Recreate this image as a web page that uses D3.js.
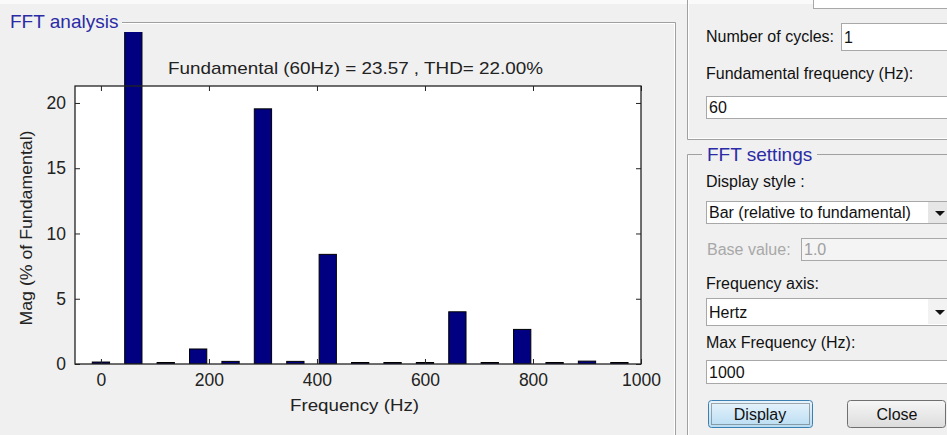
<!DOCTYPE html>
<html><head><meta charset="utf-8">
<script src="https://cdn.jsdelivr.net/npm/d3@7"></script>
<style>
html,body{margin:0;padding:0;background:#f0f0f0;overflow:hidden;}
svg{display:block;font-family:"Liberation Sans",Arial,sans-serif;}
</style></head><body>
<svg id="c" width="947" height="435"></svg>
<script>
// ---- data ----
const freqs = [0,60,120,180,240,300,360,420,480,540,600,660,720,780,840,900,960];
const mags  = [0.15,100,0.1,1.15,0.2,19.55,0.2,8.4,0.1,0.1,0.1,4.0,0.1,2.65,0.1,0.22,0.1];
const xTicks = [0,200,400,600,800,1000];
const yTicks = [0,5,10,15,20];
const chartTitle = "Fundamental (60Hz) = 23.57 , THD= 22.00%";
const xLabel = "Frequency (Hz)";
const yLabel = "Mag (% of Fundamental)";
const panelTitle = "FFT analysis";

const svg = d3.select("#c");
const W = 947, H = 435;
svg.append("rect").attr("x",0).attr("y",0).attr("width",W).attr("height",H).attr("fill","#f0f0f0");
svg.append("rect").attr("x",0).attr("y",0).attr("width",W).attr("height",4).attr("fill","#fafafa");

// ---- left panel (FFT analysis) ----
const blue = "#2b2ba6";
const line = "#a0a0a0";
svg.append("path").attr("d","M122,22.5 H675.5 V435").attr("fill","none").attr("stroke",line);
svg.append("path").attr("d","M122,23.5 H674.5 V435").attr("fill","none").attr("stroke","#fff");
svg.append("text").attr("x",10).attr("y",28).attr("fill",blue).attr("font-size",19).text(panelTitle);

// ---- chart ----
const L=75, R=641, T=86, B=364;
const x = d3.scaleLinear().domain([-48,1000]).range([L,R]);
const y = d3.scaleLinear().domain([0,21.3]).range([B,T]);
const bw = x(32)-x(0);

svg.append("rect").attr("x",L).attr("y",T).attr("width",R-L).attr("height",B-T).attr("fill","#fff");

svg.append("clipPath").attr("id","clip").append("rect").attr("x",L).attr("y",32).attr("width",R-L).attr("height",B-32);
svg.append("g").attr("clip-path","url(#clip)").selectAll("rect").data(freqs).enter().append("rect")
  .attr("x",(d)=>x(d)-bw/2).attr("width",bw)
  .attr("y",(d,i)=>Math.min(y(mags[i]),B-1.5))
  .attr("height",(d,i)=>Math.max(B-y(mags[i]),1.5))
  .attr("fill","#000080").attr("stroke","#000").attr("stroke-width",1);

const tl = 5;
const gx = svg.append("g").attr("transform",`translate(0,${B})`)
  .call(d3.axisBottom(x).tickValues(xTicks).tickSize(-tl).tickPadding(10).tickFormat(d3.format("d")));
const gxt = svg.append("g").attr("transform",`translate(0,${T})`)
  .call(d3.axisTop(x).tickValues(xTicks).tickSize(-tl).tickFormat(""));
const gy = svg.append("g").attr("transform",`translate(${L},0)`)
  .call(d3.axisLeft(y).tickValues(yTicks).tickSize(-tl).tickPadding(9));
const gyr = svg.append("g").attr("transform",`translate(${R},0)`)
  .call(d3.axisRight(y).tickValues(yTicks).tickSize(-tl).tickFormat(""));
[gx,gxt,gy,gyr].forEach(g=>{
  g.select(".domain").remove();
  g.selectAll(".tick line").attr("stroke","#222");
  g.selectAll("text").attr("font-size",17.5).attr("fill","#222").attr("font-family","'Liberation Sans',Arial,sans-serif");
});
svg.append("rect").attr("x",L).attr("y",T).attr("width",R-L).attr("height",B-T).attr("fill","none").attr("stroke","#222").attr("stroke-width",1.3);

svg.append("text").attr("x",168).attr("y",74).attr("font-size",17).attr("fill","#222")
  .attr("textLength",375).attr("lengthAdjust","spacingAndGlyphs").text(chartTitle);
svg.append("text").attr("x",290).attr("y",411).attr("font-size",17).attr("fill","#222")
  .attr("textLength",129).attr("lengthAdjust","spacingAndGlyphs").text(xLabel);
svg.append("text").attr("transform",`translate(32,${(T+B)/2+3}) rotate(-90)`).attr("text-anchor","middle").attr("font-size",17).attr("fill","#222")
  .attr("textLength",195).attr("lengthAdjust","spacingAndGlyphs").text(yLabel);

// ---- right side controls ----
const f = 16;
function label(t,x0,y0,col){svg.append("text").attr("x",x0).attr("y",y0).attr("font-size",f).attr("fill",col||"#111").text(t);}
function box(x0,y0,w,h,txt,col,bg){
  svg.append("rect").attr("x",x0+.5).attr("y",y0+.5).attr("width",w).attr("height",h).attr("fill",bg||"#fff").attr("stroke","#a8a8a8");
  if(txt) svg.append("text").attr("x",x0+3).attr("y",y0+h/2+6).attr("font-size",f).attr("fill",col||"#111").text(txt);
}
function arrow(cx,cy){svg.append("path").attr("d",`M${cx-5},${cy-2} L${cx+5},${cy-2} L${cx},${cy+3} Z`).attr("fill","#111");}

svg.append("path").attr("d","M687.5,0 V139.5 H947").attr("fill","none").attr("stroke",line);
svg.append("path").attr("d","M688.5,0 V138.5 H947").attr("fill","none").attr("stroke","#fff");
box(813,-10,140,18);
label("Number of cycles:",706,42);
box(841,23,110,27,"1");
label("Fundamental frequency (Hz):",706,79);
box(706,96,245,22,"60");

svg.append("path").attr("d","M702,154.5 H687.5 V435").attr("fill","none").attr("stroke",line);
svg.append("path").attr("d","M817,154.5 H947").attr("fill","none").attr("stroke",line);
svg.append("path").attr("d","M688.5,155.5 V435").attr("fill","none").attr("stroke","#fff");
svg.append("text").attr("x",707).attr("y",161).attr("fill",blue).attr("font-size",19).text("FFT settings");
label("Display style :",706,187);
box(706,201,245,22,"Bar (relative to fundamental)");
svg.append("rect").attr("x",928).attr("y",202).attr("width",19).attr("height",21).attr("fill","#e6e6e6");
arrow(940,213);
label("Base value:",707,255,"#a8a8a8");
box(801,238,150,22,"1.0","#a0a0a0","#f4f4f4");
label("Frequency axis:",706,289);
box(706,298,245,27,"Hertz");
svg.append("rect").attr("x",928).attr("y",299).attr("width",19).attr("height",25).attr("fill","#f2f2f2");
arrow(940,312);
label("Max Frequency (Hz):",706,348);
box(706,360,245,23,"1000");

const gr = svg.append("defs").append("linearGradient").attr("id","btn").attr("x1",0).attr("y1",0).attr("x2",0).attr("y2",1);
gr.append("stop").attr("offset","0").attr("stop-color","#e8f4fc");
gr.append("stop").attr("offset","1").attr("stop-color","#b8dcf2");
const gr2 = svg.select("defs").append("linearGradient").attr("id","btn2").attr("x1",0).attr("y1",0).attr("x2",0).attr("y2",1);
gr2.append("stop").attr("offset","0").attr("stop-color","#f6f6f6");
gr2.append("stop").attr("offset","1").attr("stop-color","#dcdcdc");
svg.append("rect").attr("x",708.5).attr("y",400.5).attr("width",104).attr("height",27).attr("rx",3).attr("fill","url(#btn)").attr("stroke","#3c7fb1");
svg.append("rect").attr("x",711.5).attr("y",403.5).attr("width",98).attr("height",21).attr("fill","none").attr("stroke","#333").attr("stroke-dasharray","1,1").attr("stroke-width",.8);
svg.append("text").attr("x",760).attr("y",420).attr("text-anchor","middle").attr("font-size",f).attr("fill","#111").text("Display");
svg.append("rect").attr("x",847.5).attr("y",400.5).attr("width",98).attr("height",27).attr("rx",3).attr("fill","url(#btn2)").attr("stroke","#707070");
svg.append("text").attr("x",897).attr("y",420).attr("text-anchor","middle").attr("font-size",f).attr("fill","#111").text("Close");
</script></body></html>
